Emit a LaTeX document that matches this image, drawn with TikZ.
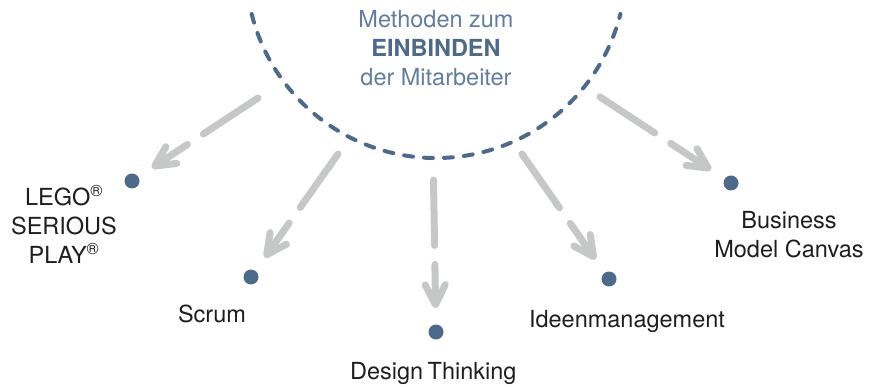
\documentclass[tikz,border=0pt]{standalone}
\usepackage{fontspec}
\setmainfont{TeX Gyre Heros}
\usetikzlibrary{arrows.meta}
\definecolor{slate}{RGB}{78,106,138}
\definecolor{slatelight}{RGB}{98,126,154}
\definecolor{arrowgray}{RGB}{198,200,199}
\definecolor{labelblack}{RGB}{30,30,30}
\tikzset{
  dot/.style={circle, fill=slate, inner sep=0pt, minimum size=15pt},
  method/.style={text=labelblack, inner sep=0pt, align=center,
    font=\fontsize{23.5}{29}\selectfont},
  pointer/.style={arrowgray, line width=7pt, line cap=round,
    dash pattern=on 65.5pt off 19pt on 300pt,
    -{Straight Barb[length=20pt, width=20pt, round]}, shorten >=16pt},
}
\begin{document}
\begin{tikzpicture}[x=1pt, y=-1pt]
\useasboundingbox (0,0) rectangle (869,387);
% halbkreis
\coordinate (hub) at (436,-32);
\draw[slate, line width=4pt, line cap=round, dash pattern=on 9pt off 11pt]
  (hub) ++(166:190) arc[start angle=166, end angle=14, radius=190];
\node[method, text=slatelight, anchor=north] (title) at (436,10)
  {Methoden zum\\\textcolor{slate}{\bfseries EINBINDEN}\\der Mitarbeiter};
% methoden
\node[dot] (lego) at (132,181) {};
\node[dot] (scrum) at (251,277) {};
\node[dot] (design) at (436,332) {};
\node[dot] (ideen) at (609,279) {};
\node[dot] (bmc) at (731,183) {};
\coordinate (lego-from) at (258,98);
\coordinate (scrum-from) at (338,154);
\coordinate (design-from) at (433.5,180);
\coordinate (ideen-from) at (522,154);
\coordinate (bmc-from) at (600,97);
\foreach \m in {lego,scrum,design,ideen,bmc}
{
    \draw[pointer] (\m-from)--(\m);
}
\node[method, anchor=north] (lego-text) at (64,185) {LEGO\textsuperscript{®}\\SERIOUS\\PLAY\textsuperscript{®}};
\node[method, anchor=base] (scrum-text) at (212,322.7) {Scrum};
\node[method, anchor=base] (design-text) at (433.3,379.3) {Design\kern-2pt\ Thinking};
\node[method, anchor=base] (ideen-text) at (627,327.3) {Ideenmanagement};
\node[method, anchor=north] (bmc-text) at (789,211) {Business\\Model Canvas};
\end{tikzpicture}
\end{document}
